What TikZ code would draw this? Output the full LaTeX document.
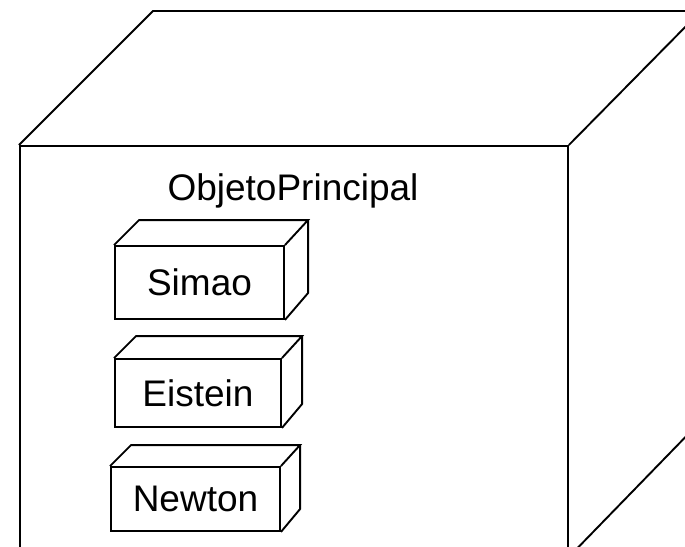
\documentclass[tikz,border=0pt]{standalone}
\usepackage{fontspec}
\setmainfont{Liberation Sans}

\begin{document}
\begin{tikzpicture}[x=1pt,y=-1pt,line width=1.9pt,
    face/.style={draw,inner sep=0pt,font=\fontsize{37}{44}\selectfont}]
\useasboundingbox (0,0) rectangle (685,546);
\clip (0,0) rectangle (685,546);

% objeto principal
\node [face,anchor=north west,minimum width=548pt,minimum height=410pt]
    (principal) at (19,145) {};
\draw
      (principal.north west) -- ++(134,-134) -- ++(548,0)
      coordinate (pback) -- (principal.north east)
      (pback) -- ++(0,410) -- (principal.south east);
\node [anchor=base,font=\fontsize{37}{44}\selectfont] (titulo) at (293,200)
    {ObjetoPrincipal};

% objetos internos
\node [face,minimum width=169pt,minimum height=73pt] (simao)   at (199.5,282.5) {Simao};
\node [face,minimum width=166pt,minimum height=68pt] (eistein) at (198  ,393  ) {Eistein};
\node [face,minimum width=169pt,minimum height=64pt] (newton)  at (195.5,499  ) {Newton};

\draw
      (simao.north west) -- ++(25,-25) -- ++(169,0) coordinate (sback)
      -- (simao.north east)
      (sback) -- ++(0,73) -- (simao.south east);
\draw
      (eistein.north west) -- ++(22,-22) -- ++(166,0) coordinate (eback)
      -- (eistein.north east)
      (eback) -- ++(0,68) -- (eistein.south east);
\draw
      (newton.north west) -- ++(21,-21) -- ++(169,0) coordinate (nback)
      -- (newton.north east)
      (nback) -- ++(0,64) -- (newton.south east);
\end{tikzpicture}
\end{document}
